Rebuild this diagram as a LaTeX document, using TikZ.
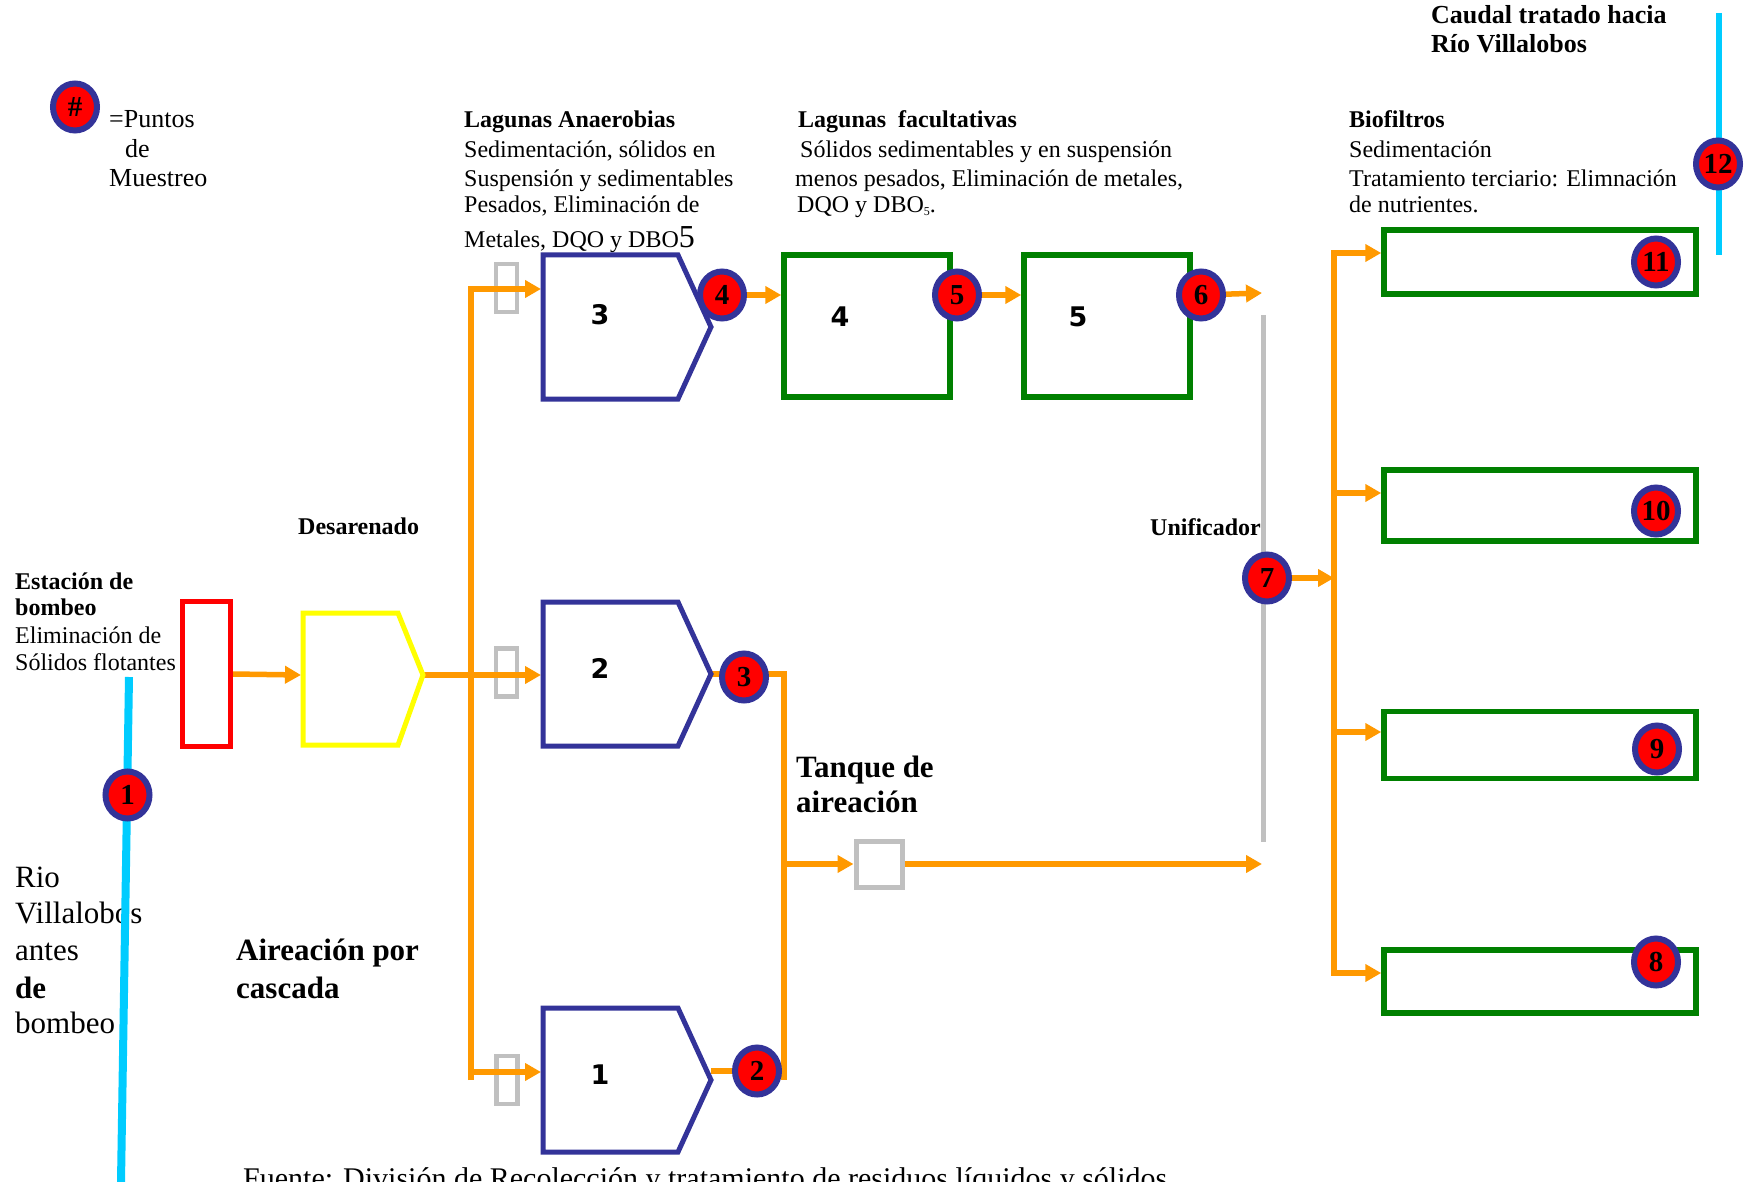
\documentclass[tikz,border=0pt]{standalone}
\usepackage{fontspec}
\setmainfont{Liberation Serif}
\setsansfont{Liberation Sans}
\newfontfamily\heavyfont{DejaVu Sans}
\usetikzlibrary{arrows.meta,shapes.geometric}
\definecolor{orng}{HTML}{FF9900}
\definecolor{lagblue}{HTML}{333399}
\definecolor{grn}{HTML}{008000}
\definecolor{gry}{HTML}{C0C0C0}
\definecolor{cyn}{HTML}{00CCFF}
\definecolor{yel}{HTML}{FFFF00}
\pgfdeclarelayer{back}
\pgfdeclarelayer{front}
\pgfsetlayers{back,main,front}
\tikzset{
  oline/.style={draw=orng, line width=5.5},
  flow/.style={oline, -{Triangle[length=16pt,width=17pt]}},
  lagoon/.style={draw=lagblue, line width=5, line join=miter},
  gbox/.style={draw=grn, line width=5.5, inner sep=0, outer sep=2.75},
  vbox/.style={draw=gry, line width=4.5, inner sep=0, outer sep=2.25, minimum width=21, minimum height=48},
  sample/.style={ellipse, draw=lagblue, fill=red, line width=6, minimum width=44, minimum height=47, inner sep=0, font=\fontsize{29}{29}\selectfont\bfseries},
  txt/.style={inner sep=0, anchor=base west, font=\fontsize{24}{28}\selectfont},
  txtb/.style={inner sep=0, anchor=base west, font=\fontsize{24}{28}\selectfont\bfseries},
  lnum/.style={inner sep=0, font=\heavyfont\bfseries\fontsize{27}{27}\selectfont},
  river/.style={draw=cyn, line width=7},
}
\begin{document}
\begin{tikzpicture}[x=1pt,y=-1pt]
\useasboundingbox (0,0) rectangle (1748,1182);
\begin{pgfonlayer}{back}
\fill[white] (0,0) rectangle (1748,1182);
\end{pgfonlayer}

% ---------- texts ----------
\node[txt, font=\fontsize{26}{28}\selectfont] (leg1) at (109,128) {=Puntos};
\node[txt, font=\fontsize{26}{28}\selectfont] (leg2) at (125,158) {de};
\node[txt, font=\fontsize{26}{28}\selectfont] (leg3) at (109,187) {Muestreo};

\node[txtb] (an0) at (464,128) {Lagunas Anaerobias};
\node[txt] (an1) at (464,158) {Sedimentación, sólidos en};
\node[txt] (an2) at (464,187) {Suspensión y sedimentables};
\node[txt] (an3) at (464,213) {Pesados, Eliminación de};
\node[txt] (an4) at (464,248) {Metales, DQO y DBO{\fontsize{32}{32}\selectfont 5}};

\node[txtb] (fa0) at (798,128) {Lagunas\ \ facultativas};
\node[txt] (fa1) at (800,158) {Sólidos sedimentables y en suspensión};
\node[txt] (fa2) at (795,187) {menos pesados, Eliminación de metales,};
\node[txt] (fa3) at (797,213) {DQO y DBO\raisebox{-3pt}{\fontsize{12}{12}\selectfont 5}.};

\node[txtb] (bi0) at (1349,128) {Biofiltros};
\node[txt] (bi1) at (1349,158) {Sedimentación};
\node[txt] (bi2) at (1349,187) {Tratamiento terciario: Elimnación};
\node[txt] (bi3) at (1349,213) {de nutrientes.};

\node[txtb, font=\fontsize{26}{30}\selectfont\bfseries] (ca0) at (1431,24) {Caudal tratado hacia};
\node[txtb, font=\fontsize{26}{30}\selectfont\bfseries] (ca1) at (1431,53) {Río Villalobos};

\node[txtb] (des) at (298,534) {Desarenado};
\node[txtb] (es0) at (15,589) {Estación de};
\node[txtb] (es1) at (15,615) {bombeo};
\node[txt] (es2) at (15,643) {Eliminación de};
\node[txt] (es3) at (15,670) {Sólidos flotantes};
\node[txtb] (uni) at (1150,535) {Unificador};

\node[txtb, font=\fontsize{31}{36}\selectfont\bfseries] (ta0) at (796,777) {Tanque de};
\node[txtb, font=\fontsize{31}{36}\selectfont\bfseries] (ta1) at (796,812) {aireación};

\node[txtb, font=\fontsize{31}{37}\selectfont\bfseries] (ac0) at (236,960) {Aireación por};
\node[txtb, font=\fontsize{31}{37}\selectfont\bfseries] (ac1) at (236,998) {cascada};

\node[txt, font=\fontsize{31}{36}\selectfont] (rv0) at (15,887) {Rio};
\node[txt, font=\fontsize{31}{36}\selectfont] (rv1) at (15,923) {Villalobos};
\node[txt, font=\fontsize{31}{36}\selectfont] (rv2) at (15,960) {antes};
\node[txt, font=\fontsize{31}{36}\selectfont\bfseries] (rv3) at (15,998) {de};
\node[txt, font=\fontsize{31}{36}\selectfont] (rv4) at (15,1033) {bombeo};

\node[txt, font=\fontsize{30}{34}\selectfont] (src) at (243,1188) {Fuente: División de Recolección y tratamiento de residuos líquidos y sólidos};

% ---------- shapes ----------
\node[draw=red, line width=5, inner sep=0, outer sep=2.5, minimum width=48, minimum height=145] (pump) at (206.5,674) {};
\coordinate (desIn) at (301,675);
\coordinate (desTip) at (423,675);
\draw[draw=yel, line width=5, line join=miter] (303,613) -- (398,613) -- (desTip) -- (398,745) -- (303,745) -- cycle;

\coordinate (L3in) at (541,289);
\coordinate (L2in) at (541,675);
\coordinate (L1in) at (541,1072);
\coordinate (L3tip) at (711,327);
\coordinate (L2tip) at (711,674);
\coordinate (L1tip) at (711,1080);
\draw[lagoon] (543,255) -- (678,255) -- (L3tip) -- (678,399) -- (543,399) -- cycle;
\draw[lagoon] (543,602) -- (678,602) -- (L2tip) -- (678,746) -- (543,746) -- cycle;
\draw[lagoon] (543,1008) -- (678,1008) -- (L1tip) -- (678,1152) -- (543,1152) -- cycle;
\node[lnum] (n3) at (600,315) {3};
\node[lnum] (n2) at (600,668) {2};
\node[lnum] (n1) at (600,1075) {1};

\node[gbox, minimum width=166, minimum height=142] (box4) at (867,326) {};
\node[gbox, minimum width=166, minimum height=142] (box5) at (1107,326) {};
\node[lnum] (n4) at (840,317) {4};
\node[lnum] (n5) at (1078,317) {5};

\node[gbox, minimum width=312, minimum height=64] (bf11) at (1540,262) {};
\node[gbox, minimum width=312, minimum height=71] (bf10) at (1540,505.5) {};
\node[gbox, minimum width=312, minimum height=67] (bf9) at (1540,745) {};
\node[gbox, minimum width=312, minimum height=63] (bf8) at (1540,981.5) {};

% ---------- front: rivers and sampling points ----------
\begin{pgfonlayer}{front}
\coordinate (rivT) at (129,677);
\coordinate (rivB) at (121,1182);
\coordinate (outT) at (1719,13);
\coordinate (outB) at (1719,255);
\draw[river, line width=8] (rivT) -- (rivB);
\draw[river, line width=6.5] (outT) -- (outB);
\node[sample] (leg) at (75,107) {\#};
\node[sample] (s1) at (127.5,795) {1};
\node[sample] (s2) at (757,1071) {2};
\node[sample] (s3) at (744,677) {3};
\node[sample] (s4) at (722,295) {4};
\node[sample] (s5) at (957,295) {5};
\node[sample] (s6) at (1201,295) {6};
\node[sample] (s7) at (1267,578) {7};
\node[sample] (s8) at (1656,962) {8};
\node[sample] (s9) at (1657,749) {9};
\node[sample] (s10) at (1656,511) {10};
\node[sample] (s11) at (1656,262) {11};
\node[sample] (s12) at (1718,164) {12};
\end{pgfonlayer}

% ---------- back: connectors ----------
\begin{pgfonlayer}{back}
\node[vbox] (v3) at (506.5,288) {};
\node[vbox] (v2) at (506.5,672.5) {};
\node[vbox] (v1) at (507,1080) {};
\node[draw=gry, line width=5, inner sep=0, outer sep=2.5, minimum width=46, minimum height=46] (tank) at (879,864) {};
\coordinate (uniT) at (1263,315);
\coordinate (uniB) at (1263,842);
\draw[gry, line width=5] (uniT) -- (uniB);

\coordinate (trTop) at (471,289);
\coordinate (trMid) at (471,675);
\coordinate (trBot) at (471,1080);
\draw[flow] (pump.east) -- (desIn);
\draw[oline] (desTip) -- (trMid);
\draw[flow] (trBot) -- (trTop) -- (L3in);
\draw[flow] (trMid) -- (L2in);
\draw[flow] (trBot |- L1in) -- (L1in);

\draw[flow] (s4.center) -- (box4.west |- s4.center);
\draw[flow] (s5.center) -- (box5.west |- s5.center);
\coordinate (out6) at (1262,293);
\draw[flow] (s6.center) -- (out6);

\coordinate (tkTop) at (784,674);
\coordinate (tkBot) at (784,1080);
\draw[oline] (L2tip) -- (tkTop) -- (tkBot);
\draw[oline] (L1tip |- s2) -- (tkBot |- s2);
\draw[flow] (tkBot |- tank) -- (tank.west);
\coordinate (tankOut) at (1262,864);
\draw[flow] (tank.east) -- (tankOut);

\coordinate (busTop) at (1334,253);
\coordinate (busBot) at (1334,973);
\draw[flow] (s7.center) -- (s7.center -| busTop);
\draw[flow] (busBot) -- (busTop) -- (bf11.west |- busTop);
\draw[flow] (busTop) -- (busBot) -- (bf8.west |- busBot);
\draw[flow] (busTop |- 0,493) -- (bf10.west |- 0,493);
\draw[flow] (busTop |- 0,732) -- (bf9.west |- 0,732);
\end{pgfonlayer}
\end{tikzpicture}
\end{document}
